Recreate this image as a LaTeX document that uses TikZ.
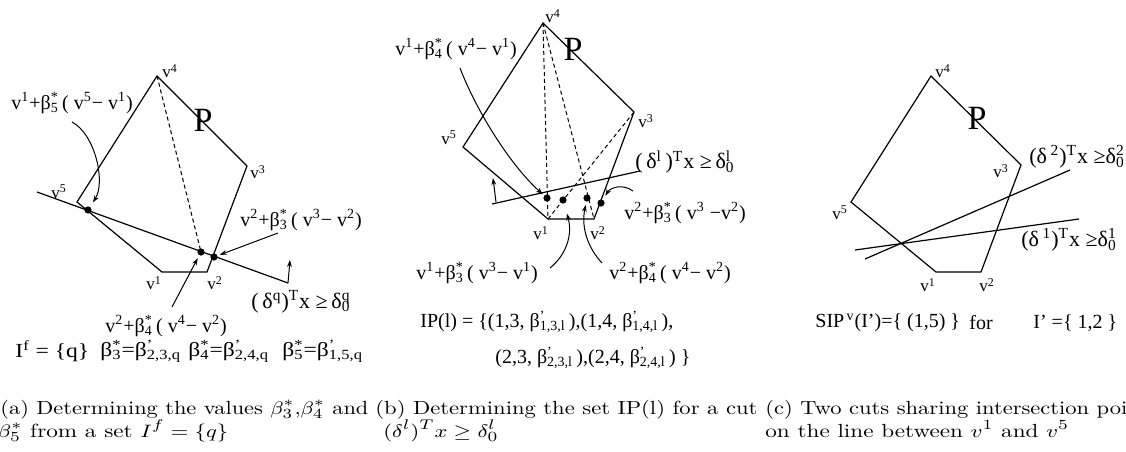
\documentclass[tikz,border=0pt]{standalone}
\usepackage{fontspec}
\newfontfamily\tms{Liberation Serif}
\newfontfamily\tmsw[FakeStretch=1.18]{Liberation Serif}
\usetikzlibrary{arrows.meta}
\newcommand\spr[1]{\textsuperscript{#1}}
\newcommand\ssb[2]{\rlap{\textsuperscript{#1}}\textsubscript{#2}}
\newsavebox\capbox
% #1 target width (pt) of the text #2 ; prints #3 with the same horizontal scale
\newcommand\fitcap[3]{\sbox\capbox{#2}\pgfmathsetmacro\capsc{#1/\the\wd\capbox}\scalebox{\capsc}[1]{#3}}
\newcommand\capnat[1]{\scalebox{1.22}[1]{#1}}
\tikzset{
  edge/.style={line width=0.6pt},
  dsh/.style={line width=0.5pt,dash pattern=on 2pt off 1.5pt},
  dot/.style={circle,fill,inner sep=0pt,minimum size=3.6pt},
  arr/.style={line width=0.5pt,-{Stealth[length=3.5pt,width=2.4pt]}},
  vl/.style={font=\tms\fontsize{8.5}{9}\selectfont,inner sep=0pt},
  fl/.style={font=\tms\fontsize{10}{11}\selectfont,inner sep=0pt},
  dl/.style={font=\tms\fontsize{11}{12}\selectfont,inner sep=0pt},
  bigP/.style={font=\tms\fontsize{17}{18}\selectfont,inner sep=0pt},
  il/.style={font=\tms\fontsize{10}{12}\selectfont,inner sep=0pt,anchor=west},
  ilw/.style={font=\tmsw\fontsize{10}{12}\selectfont,inner sep=0pt,anchor=west},
  captxt/.style={font=\fontsize{9.5}{11}\selectfont,inner sep=0pt,anchor=base west},
}
\begin{document}
\begin{tikzpicture}[x=0.5pt,y=-0.5pt]
\useasboundingbox (0,0) rectangle (1126,451);
% ---------------- panel (a)
\coordinate (A1) at (162,272);
\coordinate (A2) at (207,272);
\coordinate (A3) at (247,166);
\coordinate (A4) at (157,76);
\coordinate (A5) at (77,202);
\draw[edge] (A4) -- (A3) -- (A2) -- (A1) -- (A5) -- cycle;
\node[dot] (ad5) at (88,210) {};
\node[dot] (ad4) at (201,252) {};
\node[dot] (ad3) at (214,257) {};
\draw[dsh] (A4) -- (ad4.center);
\coordinate (acs) at (37,192);
\coordinate (ace) at (288,283);
\coordinate (aup) at (290,260);
\draw[edge] (acs) -- (ace);
\draw[arr] (ace) -- (aup);
\node[vl] (a4l) at (170,71) {v\spr{4}};
\node[vl] (a3l) at (258,172) {v\spr{3}};
\node[vl] (a5l) at (59,192) {v\spr{5}};
\node[vl] (a1l) at (154,283) {v\spr{1}};
\node[vl] (a2l) at (215,283) {v\spr{2}};
\node[bigP] (aP) at (203,120) {P};
\node[fl] (aL5) at (72,103) {v\spr{1}+β\ssb{*}{5}\,( v\spr{5}− v\spr{1})};
\node[fl] (aL3) at (301,220) {v\spr{2}+β\ssb{*}{3}\,( v\spr{3}− v\spr{2})};
\node[fl] (aL4) at (166,326) {v\spr{2}+β\ssb{*}{4}\,( v\spr{4}− v\spr{2})};
\node[dl] (aLq) at (301,302) {(\,δ\spr{q})\spr{T}x ≥\,δ\ssb{q}{0}};
\coordinate (aL5s) at (72,122);
\coordinate (aL3s) at (278,233);
\coordinate (aL4s) at (172,307);
\draw[arr,shorten >=2.5pt] (aL5s) .. controls (95,134) and (106,182) .. (ad5);
\draw[arr,shorten >=1.1pt] (aL3s) -- (ad3);
\draw[arr,shorten >=1.5pt] (aL4s) -- (ad4);
\node[ilw] (aIf) at (15,351) {I\spr{f} = \{q\}};
\node[ilw] (ab3) at (100,351) {β\ssb{*}{3}=β\ssb{’}{2,3,q}};
\node[ilw] (ab4) at (188,351) {β\ssb{*}{4}=β\ssb{’}{2,4,q}};
\node[ilw] (ab5) at (282,351) {β\ssb{*}{5}=β\ssb{’}{1,5,q}};
% ---------------- panel (b)
\coordinate (B1) at (548,219);
\coordinate (B2) at (594,219);
\coordinate (B3) at (634,112);
\coordinate (B4) at (543,23);
\coordinate (B5) at (463,147);
\draw[edge] (B4) -- (B3) -- (B2) -- (B1) -- (B5) -- cycle;
\draw[dsh] (B4) -- (B1);
\draw[dsh] (B4) -- (B2);
\draw[dsh] (B1) -- (B3);
\node[dot] (bd1) at (547,198) {};
\node[dot] (bd2) at (563,200) {};
\node[dot] (bd3) at (587,198) {};
\node[dot] (bd4) at (601,203) {};
\coordinate (bcs) at (492,204);
\coordinate (bce) at (640,171);
\draw[edge] (bcs) -- (bce);
\coordinate (bup0) at (496,202);
\coordinate (bup1) at (493,178);
\draw[arr] (bup0) -- (bup1);
\node[vl] (b4l) at (553,16) {v\spr{4}};
\node[vl] (b3l) at (646,121) {v\spr{3}};
\node[vl] (b5l) at (449,138) {v\spr{5}};
\node[vl] (b1l) at (541,233) {v\spr{1}};
\node[vl] (b2l) at (598,233) {v\spr{2}};
\node[bigP] (bP) at (573,49) {P};
\node[fl] (bL4) at (456,49) {v\spr{1}+β\ssb{*}{4}\,( v\spr{4}− v\spr{1})};
\node[dl] (bLl) at (685,162) {(\,δ\spr{l}\,)\spr{T}x ≥\,δ\ssb{l}{0}};
\node[fl] (bL3) at (685,213) {v\spr{2}+β\ssb{*}{3}\,( v\spr{3} −v\spr{2})};
\node[fl] (bL13) at (477,273) {v\spr{1}+β\ssb{*}{3}\,( v\spr{3}− v\spr{1})};
\node[fl] (bL24) at (670,273) {v\spr{2}+β\ssb{*}{4}\,( v\spr{4}− v\spr{2})};
\coordinate (bL4s) at (460,68);
\coordinate (bL3s) at (633,191);
\coordinate (bL13s) at (550,268);
\coordinate (bL24s) at (602,263);
\draw[arr,shorten >=0.8pt] (bL4s) .. controls (476,110) and (510,165) .. (bd1);
\draw[arr,shorten >=2.2pt] (bL3s) .. controls (622,183) and (610,188) .. (bd4);
\draw[arr,shorten >=5pt] (bL13s) .. controls (566,255) and (573,235) .. (bd2);
\draw[arr,shorten >=1.5pt] (bL24s) .. controls (588,248) and (581,228) .. (bd3);
\node[il] (bIP1) at (420,322) {IP(l) = \{(1,3, β\ssb{’}{1,3,l}\,),(1,4, β\ssb{’}{1,4,l}\,),};
\node[il] (bIP2) at (495,358) {(2,3, β\ssb{’}{2,3,l}\,),(2,4, β\ssb{’}{2,4,l}\,) \}};
% ---------------- panel (c)
\coordinate (C1) at (936,272);
\coordinate (C2) at (981,272);
\coordinate (C3) at (1021,165);
\coordinate (C4) at (931,76);
\coordinate (C5) at (851,202);
\draw[edge] (C4) -- (C3) -- (C2) -- (C1) -- (C5) -- cycle;
\coordinate (c2s) at (865,259);
\coordinate (c2e) at (1070,170);
\coordinate (c1s) at (855,250);
\coordinate (c1e) at (1079,219);
\draw[edge] (c2s) -- (c2e);
\draw[edge] (c1s) -- (c1e);
\node[vl] (c4l) at (943,71) {v\spr{4}};
\node[vl] (c3l) at (1001,171) {v\spr{3}};
\node[vl] (c5l) at (840,213) {v\spr{5}};
\node[vl] (c1l) at (928,285) {v\spr{1}};
\node[vl] (c2l) at (987,285) {v\spr{2}};
\node[bigP] (cP) at (977,118) {P};
\node[dl] (cL2) at (1077,157) {(δ\,\spr{2})\spr{T}x ≥δ\ssb{2}{0}};
\node[dl] (cL1) at (1069,240) {(δ\,\spr{1})\spr{T}x ≥δ\ssb{1}{0}};
\node[il] (cS1) at (815,323) {SIP\spr{\,v}(I’)=\{ (1,5) \}};
\node[il] (cS2) at (969,323) {for};
\node[il] (cS3) at (1033,323) {I’ =\{ 1,2 \}};
% ---------------- captions
\node[captxt] (capa1) at (0,414) {\fitcap{184}{(a) Determining the values $\beta_3^*$,$\beta_4^*$ and}{(a) Determining the values $\beta_3^*$,$\beta_4^*$ and}};
\node[captxt] (capa2) at (-3,437) {\capnat{$\beta_5^*$ from a set $I^f=\{q\}$}};
\node[captxt] (capb1) at (375,414) {\fitcap{191}{(b) Determining the set IP(l) for a cut}{(b) Determining the set IP(l) for a cut}};
\node[captxt] (capb2) at (383,437) {\capnat{$(\delta^l)^Tx\geq\delta_0^l$}};
\node[captxt] (capc1) at (765,414) {\fitcap{181}{(c) Two cuts sharing intersection poi}{(c) Two cuts sharing intersection points}};
\node[captxt] (capc2) at (765,437) {\capnat{on the line between $v^1$ and $v^5$}};
\end{tikzpicture}
\end{document}
